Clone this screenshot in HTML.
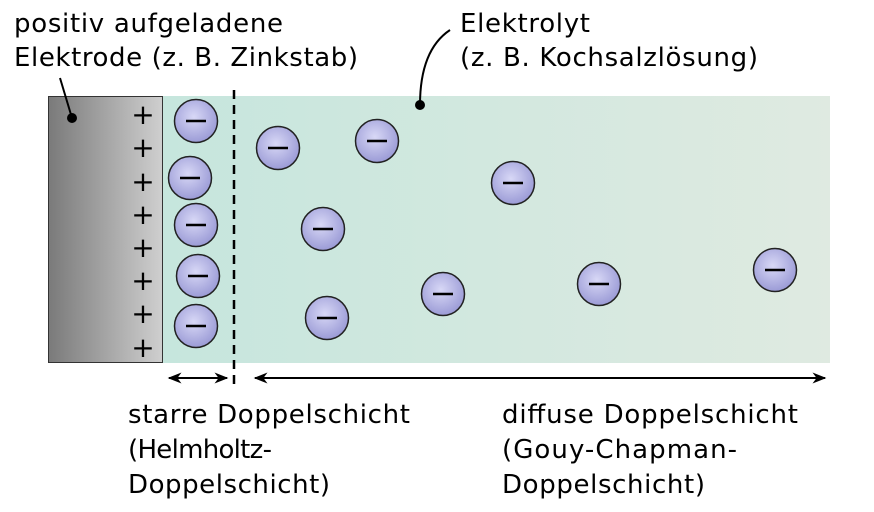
<!DOCTYPE html>
<html><head><meta charset="utf-8"><style>html,body{margin:0;padding:0;background:#fff}svg{display:block}</style></head>
<body>
<svg width="874" height="512" viewBox="0 0 874 512" xmlns="http://www.w3.org/2000/svg">
<defs>
<linearGradient id="el" x1="0" x2="1" y1="0" y2="0"><stop offset="0" stop-color="#7a7a7a"/><stop offset="1" stop-color="#cfcfcf"/></linearGradient>
<linearGradient id="ly" x1="0" x2="1" y1="0" y2="0"><stop offset="0" stop-color="#c6e6dd"/><stop offset="1" stop-color="#dfeae1"/></linearGradient>
<radialGradient id="ion" cx="0.45" cy="0.4" r="0.6"><stop offset="0" stop-color="#d8d8f6"/><stop offset="1" stop-color="#9b9bd6"/></radialGradient>
<marker id="ah" viewBox="0 0 10 10" refX="9" refY="5" markerWidth="7" markerHeight="7" orient="auto-start-reverse"><path d="M0,1 L10,5 L0,9 L3,5 z" fill="#000"/></marker>
</defs>
<rect x="163" y="96" width="667" height="267" fill="url(#ly)"/>
<rect x="48.5" y="96.5" width="114" height="266" fill="url(#el)" stroke="#333" stroke-width="1"/>
<g font-family="DejaVu Sans, Liberation Sans, sans-serif" font-size="28" text-anchor="middle" fill="#000">
<text x="143" y="124">+</text><text x="143" y="157">+</text><text x="143" y="191">+</text><text x="143" y="224">+</text><text x="143" y="257">+</text><text x="143" y="290">+</text><text x="143" y="323">+</text><text x="143" y="357">+</text>
</g>
<line x1="234" y1="90" x2="234" y2="388" stroke="#000" stroke-width="2.5" stroke-dasharray="9,6"/>
<g stroke="#222" stroke-width="1.5" fill="url(#ion)">
<circle cx="196" cy="121" r="21.5"/><circle cx="190" cy="178" r="21.5"/><circle cx="196" cy="225" r="21.5"/><circle cx="198" cy="276" r="21.5"/><circle cx="196" cy="326" r="21.5"/>
<circle cx="278" cy="148" r="21.5"/><circle cx="377" cy="141" r="21.5"/><circle cx="513" cy="183" r="21.5"/><circle cx="323" cy="229" r="21.5"/><circle cx="443" cy="294" r="21.5"/><circle cx="327" cy="318" r="21.5"/><circle cx="599" cy="284" r="21.5"/><circle cx="775" cy="270" r="21.5"/>
</g>
<g stroke="#000" stroke-width="2.5">
<line x1="186" y1="121" x2="206" y2="121"/><line x1="180" y1="178" x2="200" y2="178"/><line x1="186" y1="225" x2="206" y2="225"/><line x1="188" y1="276" x2="208" y2="276"/><line x1="186" y1="326" x2="206" y2="326"/>
<line x1="268" y1="148" x2="288" y2="148"/><line x1="367" y1="141" x2="387" y2="141"/><line x1="503" y1="183" x2="523" y2="183"/><line x1="313" y1="229" x2="333" y2="229"/><line x1="433" y1="294" x2="453" y2="294"/><line x1="317" y1="318" x2="337" y2="318"/><line x1="589" y1="284" x2="609" y2="284"/><line x1="765" y1="270" x2="785" y2="270"/>
</g>
<line x1="169" y1="378" x2="227" y2="378" stroke="#000" stroke-width="2" marker-start="url(#ah)" marker-end="url(#ah)"/>
<line x1="255" y1="378" x2="825" y2="378" stroke="#000" stroke-width="2" marker-start="url(#ah)" marker-end="url(#ah)"/>
<path d="M72,118 L60,78" stroke="#000" stroke-width="2" fill="none"/><circle cx="72" cy="118" r="5"/>
<path d="M420,105 C420,65 432,42 450,30" stroke="#000" stroke-width="2" fill="none"/><circle cx="420" cy="105" r="5"/>
<g font-family="DejaVu Sans, Liberation Sans, sans-serif" font-size="26" fill="#000" lengthAdjust="spacingAndGlyphs">
<text x="14" y="32" textLength="269">positiv aufgeladene</text>
<text x="14" y="66" textLength="344">Elektrode (z. B. Zinkstab)</text>
<text x="460" y="32" textLength="130">Elektrolyt</text>
<text x="460" y="66" textLength="298">(z. B. Kochsalzlösung)</text>
<text x="128" y="423" textLength="282">starre Doppelschicht</text>
<text x="128" y="458" textLength="144">(Helmholtz-</text>
<text x="128" y="493" textLength="202">Doppelschicht)</text>
<text x="502" y="423" textLength="296">diffuse Doppelschicht</text>
<text x="502" y="458" textLength="235">(Gouy-Chapman-</text>
<text x="502" y="493" textLength="203">Doppelschicht)</text>
</g>
</svg>
</body></html>
